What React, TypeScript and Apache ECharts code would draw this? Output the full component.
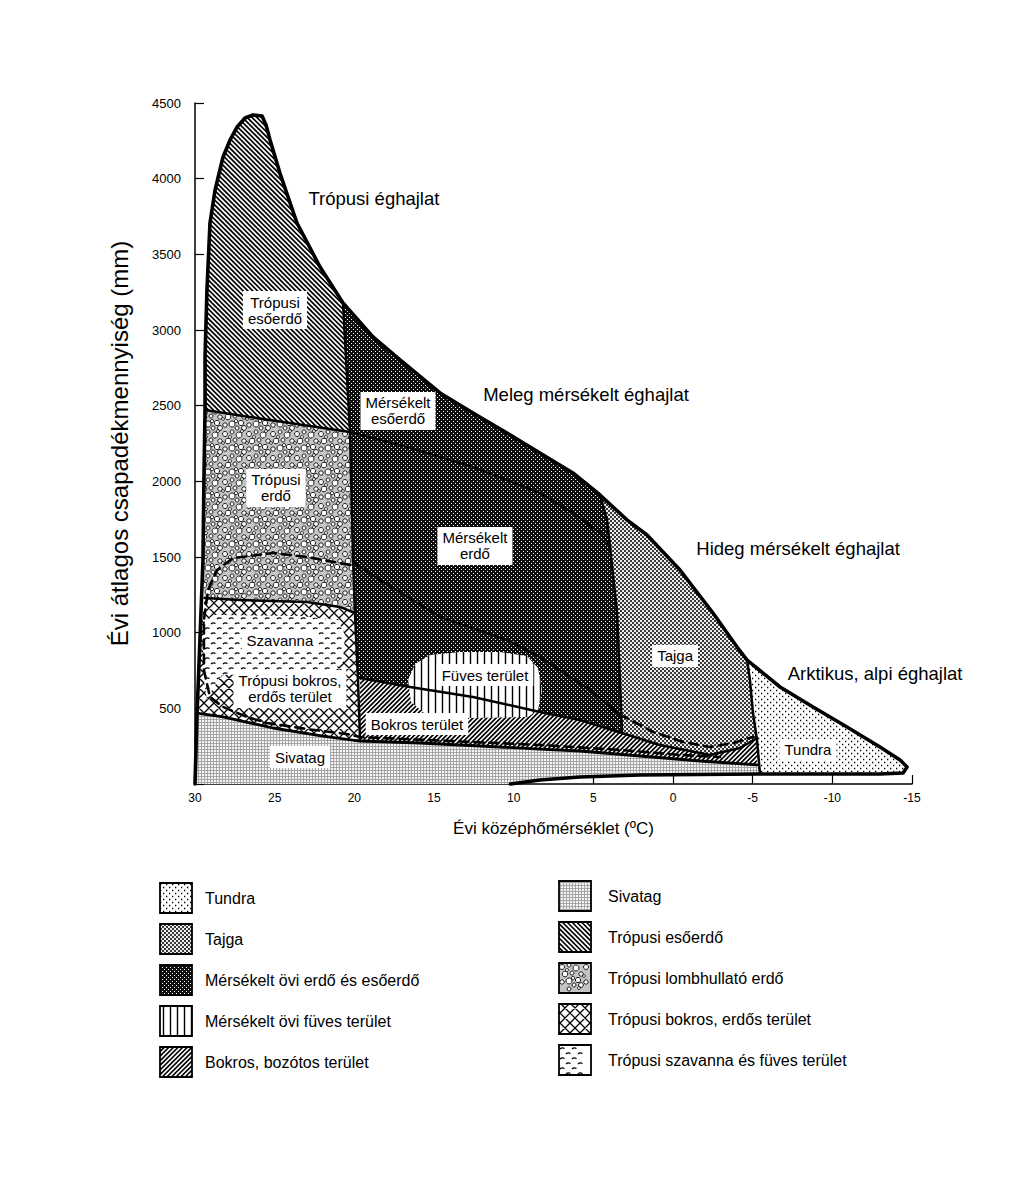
import React, { useEffect, useRef } from "react";
import * as echarts from "echarts";

type P = [number, number];
const FONT = "'Liberation Sans', Arial, Helvetica, sans-serif";

// Axis settings (temperature °C, precipitation mm)
const X_MIN = -15, X_MAX = 30, X_STEP = 5;
const Y_MIN = 0, Y_MAX = 4500, Y_STEP = 500;
const X_NAME = "Évi középhőmérséklet (ºC)";
const Y_NAME = "Évi átlagos csapadékmennyiség (mm)";

// Biome polygons in data coordinates [temperature, precipitation]
const outlinePts: P[] = [
  [30, 0], [29.87, 469], [29.69, 952], [29.5, 1480], [29.44, 2009], [29.37, 2471], [29.37, 2822],
  [29.25, 3264], [29.06, 3707], [28.74, 3925], [28.24, 4143], [27.8, 4256], [27.36, 4341],
  [26.86, 4401], [26.36, 4421], [25.79, 4414], [25.54, 4355], [25.29, 4256], [24.67, 4037],
  [23.6, 3707], [22.15, 3416], [20.71, 3178], [18.83, 2954], [17.13, 2802], [14.62, 2584],
  [12.55, 2452], [10.42, 2319], [8.35, 2187], [6.28, 2055], [4.58, 1910], [2.89, 1745],
  [1.63, 1645], [-0.44, 1414], [-2.51, 1130], [-4.02, 905], [-4.65, 819], [-6.72, 641],
  [-8.79, 509], [-10.92, 377], [-12.99, 244], [-14.25, 159], [-14.69, 112], [-14.44, 73],
  [-12.99, 66], [-5.46, 66], [2.07, 59], [5.84, 46], [8.35, 26], [10.2, 0],
];
const desertPts: P[] = [
  [30, 0], [29.87, 469], [28.24, 443], [25.1, 370], [21.97, 317], [19.64, 284], [15.88, 271],
  [12.11, 251], [8.35, 231], [5.84, 218], [2.07, 185], [-1.7, 152], [-5.27, 126], [-5.46, 66],
  [2.07, 59], [5.84, 46], [8.35, 26], [10.2, 0],
];
const shrubPts: P[] = [
  [19.64, 700], [16.51, 641], [12.55, 575], [8.35, 476], [5.84, 423], [3.2, 337], [0.82, 258],
  [-2.32, 192], [-4.21, 238], [-5.27, 304], [-5.27, 126], [-1.7, 152], [2.07, 185], [5.84, 218],
  [8.35, 231], [12.11, 251], [15.88, 271], [19.64, 284],
];
const tropShrubPts: P[] = [
  [29.4, 1229], [27.18, 1216], [22.97, 1203], [20.9, 1170], [19.96, 1130], [19.77, 687],
  [19.64, 284], [21.97, 317], [25.1, 370], [28.24, 443], [29.87, 469], [29.69, 952],
];
const savannaPts: P[] = [
  [29.37, 1084], [28.74, 1117], [23.41, 1110], [21.03, 1084], [20.59, 985], [20.71, 806],
  [21.53, 733], [25.92, 727], [28.3, 720], [28.93, 621], [29.25, 555], [29.44, 687], [29.5, 952],
];
const seasonalPts: P[] = [
  [29.37, 2471], [20.27, 2326], [20.08, 1480], [19.96, 1130], [20.9, 1170], [22.97, 1203],
  [27.18, 1216], [29.4, 1229], [29.5, 1480], [29.44, 2009],
];
const rainforestPts: P[] = [
  [29.37, 2471], [29.37, 2822], [29.25, 3264], [29.06, 3707], [28.74, 3925], [28.24, 4143],
  [27.8, 4256], [27.36, 4341], [26.86, 4401], [26.36, 4421], [25.79, 4414], [25.54, 4355],
  [25.29, 4256], [24.67, 4037], [23.6, 3707], [22.15, 3416], [20.71, 3178], [20.27, 2326],
];
const temperatePts: P[] = [
  [20.71, 3178], [18.83, 2954], [17.13, 2802], [14.62, 2584], [12.55, 2452], [10.42, 2319],
  [8.35, 2187], [6.28, 2055], [4.58, 1910], [4.14, 1745], [3.95, 1566], [3.51, 1130],
  [3.33, 687], [3.2, 337], [5.84, 423], [8.35, 476], [12.55, 575], [16.51, 641], [19.64, 700],
  [19.77, 687], [19.96, 1130], [20.08, 1480], [20.27, 2326],
];
const grassPts: P[] = [
  [16.63, 687], [16.19, 793], [15.25, 852], [13.37, 872], [10.86, 872], [9.16, 846], [8.47, 767],
  [8.22, 621], [8.47, 489], [9.1, 443], [12.74, 436], [15.56, 463], [16.44, 542],
];
const taigaPts: P[] = [
  [4.58, 1910], [2.89, 1745], [1.63, 1645], [-0.44, 1414], [-2.51, 1130], [-4.02, 905],
  [-4.65, 819], [-4.83, 687], [-5.02, 469], [-5.27, 304], [-4.21, 238], [-2.32, 192],
  [0.82, 258], [3.2, 337], [3.33, 687], [3.51, 1130], [3.95, 1566], [4.14, 1745],
];
const tundraPts: P[] = [
  [-4.65, 819], [-6.72, 641], [-8.79, 509], [-10.92, 377], [-12.99, 244], [-14.25, 159],
  [-14.69, 112], [-14.44, 73], [-12.99, 66], [-5.46, 66], [-5.27, 126], [-5.27, 304],
  [-5.02, 469], [-4.83, 687],
];

// Boundary lines
const lineA: P[] = [[29.37, 2471], [25, 2400], [20.27, 2326]];
const lineV: P[] = [[20.71, 3178], [20.27, 2326], [20.08, 1480], [19.96, 1130], [19.77, 687], [19.64, 284]];
const lineB: P[] = [[29.4, 1229], [27.18, 1216], [22.97, 1203], [20.9, 1170], [19.96, 1130]];
const lineD: P[] = [
  [29.87, 469], [28.24, 443], [25.1, 370], [21.97, 317], [19.64, 284], [15.88, 271], [12.11, 251],
  [8.35, 231], [5.84, 218], [2.07, 185], [-1.7, 152], [-5.27, 126],
];
const lineE: P[] = [
  [19.64, 700], [16.51, 641], [12.55, 575], [8.35, 476], [5.84, 423], [3.2, 337], [0.82, 258],
  [-2.32, 192], [-4.21, 238], [-5.27, 304],
];
const lineT: P[] = [[4.58, 1910], [4.14, 1745], [3.95, 1566], [3.51, 1130], [3.33, 687], [3.2, 337]];
const lineU: P[] = [[-4.65, 819], [-4.83, 687], [-5.02, 469], [-5.27, 291], [-5.46, 66]];
const lineTempInner: P[] = [
  [20.27, 2326], [16.69, 2227], [12.55, 2095], [8.35, 1923], [6.28, 1791], [4.58, 1659], [4.14, 1600], [3.95, 1566],
];
const loopSolid: P[] = [
  [20.08, 1467], [18.39, 1348], [14.62, 1104], [10.42, 952], [8.35, 839], [5.21, 621], [3.33, 456],
];
const loopDashTaiga: P[] = [
  [3.33, 456], [2.89, 436], [1.26, 344], [-0.63, 278], [-2.32, 244], [-3.77, 271], [-5.02, 311],
];
const loopDashTropic: P[] = [
  [20.27, 1447], [22.97, 1500], [25.1, 1526], [27.61, 1493], [28.62, 1414], [29.18, 1282],
  [29.44, 1084], [29.44, 753], [29.06, 575], [28.24, 509], [26.74, 443], [25.48, 403],
  [22.97, 363], [20.46, 330], [19.64, 310], [14, 284], [8.35, 258], [3.33, 225], [-0.44, 192], [-2.95, 178],
];

// Labels
const boxLabels: { text: string; at: P }[] = [
  { text: "Trópusi\nesőerdő", at: [24.98, 3132] },
  { text: "Mérsékelt\nesőerdő", at: [17.26, 2465] },
  { text: "Trópusi\nerdő", at: [24.92, 1956] },
  { text: "Mérsékelt\nerdő", at: [12.43, 1573] },
  { text: "Szavanna", at: [24.67, 945] },
  { text: "Trópusi bokros,\nerdős terület", at: [24.04, 628] },
  { text: "Füves terület", at: [11.8, 720] },
  { text: "Bokros terület", at: [16.07, 396] },
  { text: "Sivatag", at: [23.41, 178] },
  { text: "Tajga", at: [-0.13, 846] },
  { text: "Tundra", at: [-8.47, 225] },
];
const climateLabels: { text: string; at: P }[] = [
  { text: "Trópusi éghajlat", at: [18.77, 3872] },
  { text: "Meleg mérsékelt éghajlat", at: [5.46, 2571] },
  { text: "Hideg mérsékelt éghajlat", at: [-7.85, 1559] },
  { text: "Arktikus, alpi éghajlat", at: [-12.68, 733] },
];

const legendLeft: [string, string][] = [
  ["tundra", "Tundra"],
  ["taiga", "Tajga"],
  ["temperate", "Mérsékelt övi erdő és esőerdő"],
  ["grass", "Mérsékelt övi füves terület"],
  ["shrub", "Bokros, bozótos terület"],
];
const legendRight: [string, string][] = [
  ["desert", "Sivatag"],
  ["rainforest", "Trópusi esőerdő"],
  ["seasonal", "Trópusi lombhullató erdő"],
  ["tropShrub", "Trópusi bokros, erdős terület"],
  ["savanna", "Trópusi szavanna és füves terület"],
];

const regions: { key: string; pts: P[] }[] = [
  { key: "desert", pts: desertPts },
  { key: "shrub", pts: shrubPts },
  { key: "tropShrub", pts: tropShrubPts },
  { key: "savanna", pts: savannaPts },
  { key: "seasonal", pts: seasonalPts },
  { key: "rainforest", pts: rainforestPts },
  { key: "temperate", pts: temperatePts },
  { key: "grass", pts: grassPts },
  { key: "taiga", pts: taigaPts },
  { key: "tundra", pts: tundraPts },
];

const lines: { pts: P[]; width: number; dash?: number[] }[] = [
  { pts: lineA, width: 2.5 },
  { pts: lineV, width: 2.5 },
  { pts: lineB, width: 2.5 },
  { pts: lineD, width: 2.8 },
  { pts: lineE, width: 2.5 },
  { pts: lineT, width: 2.5 },
  { pts: lineU, width: 2.5 },
  { pts: lineTempInner, width: 2.2 },
  { pts: loopSolid, width: 2.2 },
  { pts: loopDashTaiga, width: 2.6, dash: [9, 6] },
  { pts: loopDashTropic, width: 2.6, dash: [9, 6] },
  { pts: outlinePts, width: 3.6 },
];

// ---- Vector textures (drawing style only) ----
const BLOBS: [number, number, number][] = [
  [3, 4, 2.5], [10, 2, 2], [17, 5, 3], [22, 11, 2.2], [6, 11, 2.8], [13, 10, 2], [19, 17, 2.6],
  [3, 19, 2.2], [10, 18, 3], [15, 22, 2], [22, 22, 2.4], [8, 7, 1.5], [14, 15, 1.6], [1, 13, 1.4], [20, 1, 1.5],
];

const TEX: Record<string, { base: string; stroke: string; lw: number; dash?: number[]; fill?: string }> = {
  tundra: { base: "#ffffff", stroke: "#000", lw: 1.3, dash: [1.3, 4.7] },
  taiga: { base: "#eeeeee", stroke: "#383838", lw: 2, dash: [2, 2] },
  temperate: { base: "#0e0e0e", stroke: "#ffffff", lw: 1, dash: [1, 3] },
  grass: { base: "#ffffff", stroke: "#000", lw: 1.4 },
  shrub: { base: "#ffffff", stroke: "#000", lw: 1.7 },
  desert: { base: "#f4f4f4", stroke: "#9e9e9e", lw: 0.9 },
  rainforest: { base: "#ffffff", stroke: "#000", lw: 1.7 },
  seasonal: { base: "#c4c4c4", stroke: "#1a1a1a", lw: 1, fill: "#ffffff" },
  tropShrub: { base: "#ffffff", stroke: "#000", lw: 1.3 },
  savanna: { base: "#ffffff", stroke: "#000", lw: 1.3 },
};

echarts.graphic.registerShape(
  "texture",
  echarts.graphic.extendShape({
    shape: { x: 0, y: 0, width: 0, height: 0, kind: "" },
    buildPath(ctx: any, s: any) {
      const x0 = s.x, y0 = s.y, x1 = s.x + s.width, y1 = s.y + s.height;
      const kind = s.kind;
      const back = (step: number) => {
        for (let c = y0 - x1; c <= y1 - x0; c += step) {
          const lo = Math.max(x0, y0 - c), hi = Math.min(x1, y1 - c);
          if (hi > lo) { ctx.moveTo(lo, lo + c); ctx.lineTo(hi, hi + c); }
        }
      };
      const fwd = (step: number) => {
        for (let c = x0 + y0; c <= x1 + y1; c += step) {
          const lo = Math.max(x0, c - y1), hi = Math.min(x1, c - y0);
          if (hi > lo) { ctx.moveTo(lo, c - lo); ctx.lineTo(hi, c - hi); }
        }
      };
      const rows = (dy: number, off: number, start: number) => {
        let i = 0;
        for (let y = y0 + start; y < y1; y += dy, i++) {
          ctx.moveTo(x0 + (i % 2) * off, y);
          ctx.lineTo(x1, y);
        }
      };
      if (kind === "rainforest") back(4.8);
      else if (kind === "shrub") fwd(4.6);
      else if (kind === "tropShrub") { back(10); fwd(10); }
      else if (kind === "grass") {
        for (let x = x0 + 3.5; x < x1; x += 7) { ctx.moveTo(x, y0); ctx.lineTo(x, y1); }
      } else if (kind === "desert") {
        for (let x = x0 + 1.5; x < x1; x += 3) { ctx.moveTo(x, y0); ctx.lineTo(x, y1); }
        for (let y = y0 + 1.5; y < y1; y += 3) { ctx.moveTo(x0, y); ctx.lineTo(x1, y); }
      } else if (kind === "tundra") rows(3, 3, 1.5);
      else if (kind === "taiga") rows(2, 2, 1);
      else if (kind === "temperate") rows(2, 2, 0.5);
      else if (kind === "seasonal") {
        for (let ty = y0; ty < y1; ty += 24)
          for (let tx = x0; tx < x1; tx += 24)
            for (const [bx, by, r] of BLOBS) {
              const cx = tx + bx, cy = ty + by;
              if (cx - r < x0 || cx + r > x1 || cy - r < y0 || cy + r > y1) continue;
              ctx.moveTo(cx + r, cy);
              ctx.arc(cx, cy, r, 0, Math.PI * 2, false);
            }
      } else if (kind === "savanna") {
        for (let ty = y0; ty + 10 <= y1; ty += 10)
          for (let tx = x0; tx + 12 <= x1; tx += 12) {
            ctx.moveTo(tx + 1, ty + 4); ctx.quadraticCurveTo(tx + 3, ty + 2, tx + 5.5, ty + 3.5);
            ctx.moveTo(tx + 7, ty + 9); ctx.quadraticCurveTo(tx + 9, ty + 7, tx + 11.5, ty + 8.5);
          }
      }
    },
  } as any)
);

function texStyle(key: string) {
  const t = TEX[key];
  return {
    fill: t.fill || "none",
    stroke: t.stroke,
    lineWidth: t.lw,
    lineDash: t.dash || null,
    lineCap: "butt",
  };
}

export default function App() {
  const ref = useRef<HTMLDivElement>(null);

  useEffect(() => {
    document.body.style.margin = "0";
    if (!ref.current) return;
    const chart = echarts.init(ref.current, null, { renderer: "svg" });

    const legendGraphics: any[] = [];
    const addLegend = (items: [string, string][], bx: number, tx: number, y0: number, dy: number) => {
      items.forEach(([key, label], i) => {
        const y = y0 + i * dy;
        const box = { x: bx, y: y, width: 32, height: 30 };
        legendGraphics.push({ type: "rect", shape: box, style: { fill: TEX[key].base } });
        legendGraphics.push({ type: "texture", shape: { ...box, kind: key }, style: texStyle(key) });
        legendGraphics.push({ type: "rect", shape: box, style: { fill: "none", stroke: "#000", lineWidth: 1.8 } });
        legendGraphics.push({
          type: "text",
          x: tx,
          y: y + 15,
          style: { text: label, fontSize: 16, fontFamily: FONT, fill: "#000", verticalAlign: "middle" },
        });
      });
    };
    addLegend(legendLeft, 160, 205, 883, 41);
    addLegend(legendRight, 559, 608, 881, 41);

    const option: any = {
      animation: false,
      backgroundColor: "#fff",
      grid: { left: 195, top: 103, width: 717, height: 681, containLabel: false },
      xAxis: {
        type: "value",
        inverse: true,
        min: X_MIN,
        max: X_MAX,
        interval: X_STEP,
        name: X_NAME,
        nameLocation: "middle",
        nameGap: 36,
        nameTextStyle: { fontSize: 17, color: "#000", fontFamily: FONT },
        axisLine: { show: true, onZero: false, lineStyle: { color: "#000", width: 1.5 } },
        axisTick: { show: true, inside: true, length: 9, lineStyle: { color: "#000", width: 1.2 } },
        axisLabel: { fontSize: 12, color: "#000", fontFamily: FONT, margin: 8 },
        splitLine: { show: false },
      },
      yAxis: {
        type: "value",
        min: Y_MIN,
        max: Y_MAX,
        interval: Y_STEP,
        name: Y_NAME,
        nameLocation: "middle",
        nameGap: 64,
        nameTextStyle: { fontSize: 24, color: "#000", fontFamily: FONT },
        axisLine: { show: true, onZero: false, lineStyle: { color: "#000", width: 1.5 } },
        axisTick: { show: true, inside: true, length: 9, lineStyle: { color: "#000", width: 1.2 } },
        axisLabel: {
          fontSize: 13, color: "#000", fontFamily: FONT, margin: 14,
          formatter: (v: number) => (v === 0 ? "" : String(v)),
        },
        splitLine: { show: false },
      },
      graphic: legendGraphics,
      series: [
        {
          type: "custom",
          silent: true,
          data: regions.map((r) => r.pts[0]),
          renderItem: (params: any, api: any) => {
            const r = regions[params.dataIndex];
            const pts = r.pts.map((p) => api.coord(p));
            const xs = pts.map((p: number[]) => p[0]);
            const ys = pts.map((p: number[]) => p[1]);
            const bx = Math.floor(Math.min(...xs)) - 4;
            const by = Math.floor(Math.min(...ys)) - 4;
            const bw = Math.ceil(Math.max(...xs)) + 4 - bx;
            const bh = Math.ceil(Math.max(...ys)) + 4 - by;
            return {
              type: "group",
              children: [
                { type: "polygon", shape: { points: pts }, style: { fill: TEX[r.key].base, stroke: "none" } },
                {
                  type: "texture",
                  shape: { x: bx, y: by, width: bw, height: bh, kind: r.key },
                  style: texStyle(r.key),
                  clipPath: { type: "polygon", shape: { points: pts } },
                },
              ],
            };
          },
        },
        {
          type: "custom",
          silent: true,
          data: lines.map((l) => l.pts[0]),
          renderItem: (params: any, api: any) => {
            const l = lines[params.dataIndex];
            return {
              type: "polyline",
              shape: { points: l.pts.map((p) => api.coord(p)) },
              style: {
                fill: "none",
                stroke: "#000",
                lineWidth: l.width,
                lineDash: l.dash || null,
                lineJoin: "round",
                lineCap: "round",
              },
            };
          },
        },
        {
          type: "custom",
          silent: true,
          data: boxLabels.map((l) => l.at),
          renderItem: (params: any, api: any) => {
            const l = boxLabels[params.dataIndex];
            const c = api.coord(l.at);
            return {
              type: "text",
              x: c[0],
              y: c[1],
              style: {
                text: l.text,
                fontSize: 15,
                lineHeight: 16,
                fontFamily: FONT,
                fill: "#000",
                align: "center",
                verticalAlign: "middle",
                backgroundColor: "#fff",
                padding: [3, 5, 3, 5],
              },
            };
          },
        },
        {
          type: "custom",
          silent: true,
          data: climateLabels.map((l) => l.at),
          renderItem: (params: any, api: any) => {
            const l = climateLabels[params.dataIndex];
            const c = api.coord(l.at);
            return {
              type: "text",
              x: c[0],
              y: c[1],
              style: {
                text: l.text,
                fontSize: 18.5,
                fontFamily: FONT,
                fill: "#000",
                align: "center",
                verticalAlign: "middle",
              },
            };
          },
        },
      ],
    };
    chart.setOption(option);
    return () => chart.dispose();
  }, []);

  return <div ref={ref} style={{ width: 1024, height: 1185 }} />;
}
